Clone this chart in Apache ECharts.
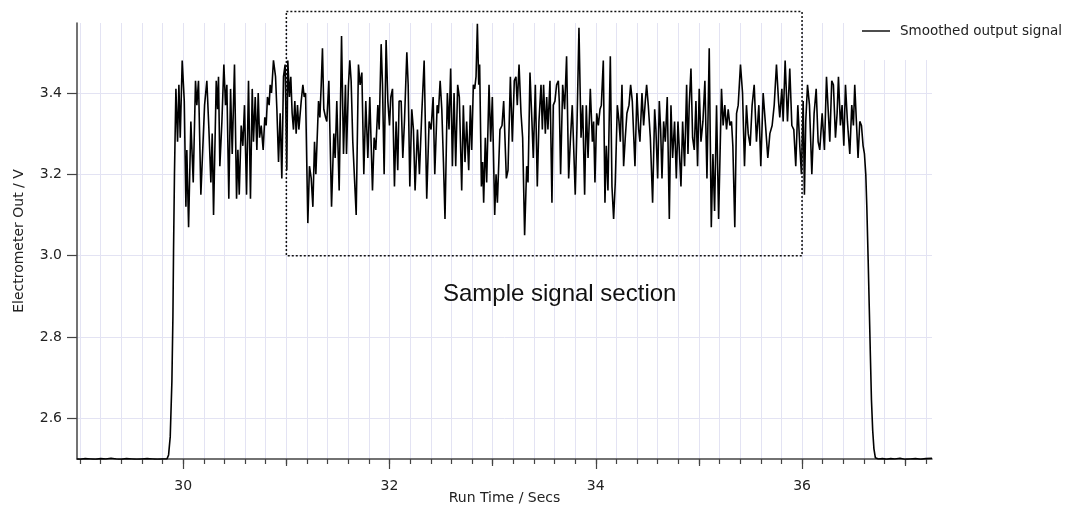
<!DOCTYPE html>
<html>
<head>
<meta charset="utf-8">
<script src="https://cdn.jsdelivr.net/npm/echarts@6/dist/echarts.min.js"></script>
<style>
html,body{margin:0;padding:0;background:#fff;}
#chart{width:1073px;height:506px;}
</style>
</head>
<body>
<div id="chart"></div>
<script>
// ---- data ----
const seriesName = 'Smoothed output signal';
const xTitle = 'Run Time / Secs';
const yTitle = 'Electrometer Out / V';
const annotationText = 'Sample signal section';

const xLabelTicks = [30, 32, 34, 36];
const xMidTicks = [31, 33, 35, 37];
const xMinorTicks = [29.0,29.2,29.4,29.6,29.8,30.0,30.2,30.4,30.6,30.8,31.0,31.2,31.4,31.6,31.8,32.0,32.2,32.4,32.6,32.8,33.0,33.2,33.4,33.6,33.8,34.0,34.2,34.4,34.6,34.8,35.0,35.2,35.4,35.6,35.8,36.0,36.2,36.4,36.6,36.8,37.0,37.2];
const yLabelTicks = [2.6, 2.8, 3.0, 3.2, 3.4];
const xRange = [28.97, 37.26];
const yRange = [2.5, 3.572];

// sample section box (x from, x to, y from, y to) and label anchor
const boxX = [31, 36];
const boxY = [3.0, 3.6];
const labelAt = [33.65, 2.905];

// baseline before injection
const baseStartTime = [28.97,29.0,29.05,29.1,29.15,29.2,29.25,29.3,29.35,29.4,29.45,29.5,29.55,29.6,29.65,29.7,29.75,29.8];
const baseStartVolt = [2.500,2.499,2.501,2.500,2.499,2.501,2.500,2.502,2.500,2.499,2.501,2.500,2.499,2.500,2.501,2.500,2.499,2.500];
// rise
const riseTime = [29.842,29.858,29.874,29.89,29.9,29.906,29.915];
const riseVolt = [2.500,2.51,2.555,2.69,2.85,3.01,3.2];
// plateau signal
const plateauTime = [
29.929,29.945,29.958,29.971,29.990,30.010,30.026,30.035,30.052,30.074,30.097,30.119,30.132,30.148,30.171,30.207,30.229,30.249,30.268,30.281,30.294,30.320,30.333,30.342,30.355,30.375,30.394,30.410,30.423,30.442,30.459,30.475,30.497,30.517,30.530,30.543,30.562,30.578,30.594,30.614,30.633,30.652,30.669,30.681,30.698,30.714,30.727,30.740,30.756,30.775,30.791,30.804,30.817,30.833,30.843,30.856,30.875,30.895,30.908,30.924,30.940,30.956,30.972,30.988,31.004,31.014,31.030,31.043,31.056,31.069,31.082,31.095,31.108,31.121,
31.144,31.160,31.173,31.186,31.208,31.224,31.241,31.257,31.273,31.286,31.312,31.325,31.338,31.350,31.363,31.380,31.392,31.412,31.438,31.460,31.473,31.489,31.512,31.535,31.554,31.573,31.583,31.602,31.615,31.628,31.644,31.677,31.699,31.715,31.732,31.751,31.770,31.790,31.809,31.835,31.851,31.867,31.887,31.900,31.919,31.932,31.948,31.967,31.984,32.000,32.013,32.029,32.048,32.064,32.080,32.093,32.113,32.129,32.145,32.168,32.181,32.197,32.216,32.232,32.248,32.271,32.290,32.313,32.336,32.361,32.384,32.403,32.423,32.439,32.462,32.474,32.491,32.507,32.523,
32.538,32.561,32.577,32.593,32.610,32.626,32.642,32.661,32.677,32.700,32.716,32.732,32.748,32.768,32.784,32.797,32.813,32.826,32.839,32.852,32.865,32.874,32.891,32.903,32.913,32.929,32.942,32.965,32.981,32.997,33.020,33.033,33.046,33.071,33.091,33.107,33.133,33.149,33.172,33.191,33.210,33.226,33.239,33.256,33.275,33.291,33.310,33.330,33.343,33.362,33.381,33.394,33.414,33.433,33.449,33.469,33.482,33.494,33.511,33.524,33.536,33.556,33.575,33.588,33.604,33.620,33.637,33.646,33.659,33.679,33.698,33.717,33.737,33.753,33.772,33.801,33.817,33.837,
33.857,33.873,33.892,33.908,33.925,33.947,33.967,33.979,33.992,34.009,34.025,34.041,34.054,34.073,34.089,34.102,34.118,34.141,34.157,34.173,34.189,34.209,34.225,34.238,34.254,34.270,34.286,34.302,34.322,34.338,34.354,34.380,34.399,34.416,34.428,34.448,34.464,34.480,34.493,34.509,34.529,34.551,34.571,34.583,34.600,34.616,34.629,34.642,34.658,34.674,34.693,34.713,34.729,34.745,34.764,34.781,34.797,34.810,34.826,34.842,34.861,34.881,34.894,34.906,34.923,34.939,34.955,34.971,34.987,35.003,35.020,35.039,35.058,35.078,35.100,35.120,35.136,35.152,35.171,35.191,
35.219,35.235,35.251,35.268,35.284,35.300,35.316,35.329,35.348,35.365,35.381,35.403,35.423,35.442,35.461,35.478,35.497,35.516,35.536,35.558,35.581,35.600,35.623,35.646,35.668,35.688,35.710,35.730,35.752,35.772,35.784,35.804,35.817,35.836,35.859,35.881,35.901,35.920,35.939,35.959,35.978,35.994,36.011,36.023,36.036,36.053,36.072,36.095,36.117,36.137,36.156,36.172,36.195,36.217,36.237,36.253,36.269,36.288,36.304,36.324,36.340,36.353,36.372,36.388,36.405,36.421,36.440,36.463,36.482,36.498,36.511,36.527,36.543,36.560,36.576,36.592,36.605,36.618
];
const plateauVolt = [
3.41,3.28,3.42,3.29,3.48,3.38,3.12,3.26,3.07,3.33,3.18,3.43,3.37,3.43,3.15,3.37,3.43,3.31,3.18,3.30,3.10,3.43,3.36,3.44,3.22,3.33,3.47,3.37,3.42,3.14,3.41,3.25,3.47,3.14,3.26,3.15,3.32,3.27,3.37,3.15,3.43,3.14,3.41,3.28,3.39,3.26,3.40,3.29,3.32,3.26,3.34,3.32,3.39,3.37,3.42,3.40,3.48,3.44,3.36,3.23,3.35,3.19,3.44,3.47,3.21,3.48,3.39,3.44,3.35,3.31,3.38,3.30,3.37,3.31,
3.38,3.42,3.39,3.40,3.08,3.22,3.19,3.12,3.28,3.20,3.38,3.34,3.42,3.51,3.36,3.34,3.33,3.43,3.12,3.30,3.24,3.38,3.16,3.54,3.25,3.42,3.25,3.42,3.48,3.43,3.28,3.10,3.47,3.42,3.45,3.20,3.38,3.24,3.39,3.16,3.29,3.26,3.37,3.31,3.52,3.42,3.20,3.53,3.38,3.32,3.39,3.41,3.17,3.33,3.21,3.38,3.38,3.24,3.33,3.50,3.42,3.17,3.36,3.31,3.16,3.31,3.20,3.35,3.48,3.14,3.33,3.31,3.39,3.20,3.37,3.35,3.43,3.36,3.23,
3.09,3.40,3.31,3.46,3.22,3.40,3.22,3.42,3.39,3.16,3.37,3.23,3.33,3.21,3.37,3.26,3.42,3.41,3.44,3.57,3.42,3.47,3.17,3.23,3.13,3.29,3.18,3.42,3.28,3.39,3.10,3.20,3.13,3.31,3.32,3.38,3.19,3.21,3.44,3.28,3.43,3.44,3.37,3.47,3.35,3.29,3.05,3.22,3.18,3.45,3.33,3.24,3.42,3.17,3.33,3.42,3.31,3.42,3.30,3.39,3.31,3.43,3.13,3.37,3.38,3.42,3.43,3.38,3.20,3.42,3.36,3.49,3.19,3.28,3.37,3.15,3.31,3.56,
3.29,3.37,3.15,3.37,3.24,3.41,3.28,3.33,3.18,3.35,3.32,3.36,3.37,3.48,3.13,3.27,3.16,3.49,3.17,3.09,3.18,3.37,3.33,3.28,3.42,3.22,3.29,3.35,3.37,3.42,3.38,3.22,3.40,3.31,3.28,3.40,3.32,3.38,3.42,3.37,3.29,3.13,3.36,3.31,3.19,3.38,3.31,3.19,3.33,3.28,3.39,3.09,3.37,3.24,3.33,3.19,3.33,3.26,3.17,3.33,3.22,3.42,3.25,3.37,3.46,3.29,3.26,3.38,3.22,3.41,3.28,3.33,3.43,3.19,3.51,3.07,3.25,3.11,3.37,3.09,
3.41,3.32,3.37,3.31,3.36,3.32,3.33,3.27,3.07,3.35,3.37,3.47,3.40,3.22,3.37,3.30,3.27,3.37,3.42,3.28,3.37,3.22,3.40,3.32,3.24,3.30,3.32,3.37,3.47,3.38,3.34,3.41,3.33,3.48,3.33,3.46,3.32,3.31,3.22,3.37,3.27,3.20,3.38,3.15,3.33,3.42,3.37,3.20,3.35,3.41,3.28,3.26,3.35,3.26,3.44,3.36,3.28,3.43,3.42,3.29,3.35,3.44,3.32,3.37,3.27,3.42,3.33,3.25,3.37,3.32,3.42,3.33,3.24,3.33,3.32,3.27,3.25,3.20
];
// fall
const fallTime = [36.628,36.641,36.652,36.662,36.673,36.685,36.697,36.711];
const fallVolt = [3.12,2.99,2.87,2.76,2.645,2.57,2.525,2.503];
// baseline after
const baseEndTime = [36.74,36.78,36.82,36.86,36.9,36.95,37.0,37.05,37.1,37.15,37.2,37.26];
const baseEndVolt = [2.500,2.501,2.499,2.501,2.500,2.502,2.499,2.500,2.501,2.499,2.501,2.502];

// ---- build ----
const runTime = [].concat(baseStartTime, riseTime, plateauTime, fallTime, baseEndTime);
const output = [].concat(baseStartVolt, riseVolt, plateauVolt, fallVolt, baseEndVolt);
const lineData = runTime.map((t, i) => [t, output[i]]);

const FONT = 'DejaVu Sans';
const axisColor = '#444';
const gridColor = '#e3e3f3';
const textColor = '#222';

function tickAxis(values, len) {
  return {
    type: 'value', gridIndex: 0, position: 'bottom', min: xRange[0], max: xRange[1],
    axisLine: {show: false},
    axisTick: {show: true, customValues: values, length: len, lineStyle: {color: axisColor, width: 1.2}},
    axisLabel: {show: false},
    splitLine: {show: false}
  };
}

const chart = echarts.init(document.getElementById('chart'), null, {renderer: 'canvas'});
chart.setOption({
  animation: false,
  backgroundColor: '#fff',
  grid: {left: 77, right: 141, top: 23, bottom: 47, containLabel: false, outerBoundsMode: 'none'},
  legend: {
    data: [{name: seriesName, icon: 'path://M0,0H28V1.4H0Z'}],
    left: 850, top: 11,
    backgroundColor: '#fff',
    padding: [13, 20, 22, 12],
    itemWidth: 28, itemHeight: 14,
    itemStyle: {color: '#000'},
    textStyle: {fontFamily: FONT, fontSize: 13.5, color: textColor, padding: [0, 0, 0, 5]}
  },
  xAxis: [
    {
      type: 'value', gridIndex: 0, position: 'bottom', min: xRange[0], max: xRange[1],
      name: xTitle, nameLocation: 'middle', nameGap: 32, nameMoveOverlap: false,
      nameTextStyle: {fontFamily: FONT, fontSize: 14, color: textColor},
      axisLine: {show: true, onZero: false, lineStyle: {color: axisColor, width: 1.5}},
      axisTick: {show: true, customValues: xMinorTicks, length: 5, lineStyle: {color: axisColor, width: 1.2}},
      axisLabel: {show: true, customValues: xLabelTicks, margin: 20, fontFamily: FONT, fontSize: 14, color: textColor,
        formatter: v => String(Math.round(v))},
      splitLine: {show: true, lineStyle: {color: gridColor, width: 1}}
    },
    tickAxis(xMidTicks, 7),
    tickAxis(xLabelTicks, 10)
  ],
  yAxis: {
    type: 'value', min: yRange[0], max: yRange[1],
    name: yTitle, nameLocation: 'middle', nameGap: 51, nameMoveOverlap: false,
    nameTextStyle: {fontFamily: FONT, fontSize: 14, color: textColor},
    axisLine: {show: true, onZero: false, lineStyle: {color: axisColor, width: 1.5}},
    axisTick: {show: true, customValues: yLabelTicks, length: 10, lineStyle: {color: axisColor, width: 1.2}},
    axisLabel: {show: true, customValues: yLabelTicks, margin: 15, fontFamily: FONT, fontSize: 14, color: textColor,
      formatter: v => v.toFixed(1)},
    splitLine: {show: true, lineStyle: {color: gridColor, width: 1}}
  },
  series: [
    {
      name: seriesName, type: 'line', xAxisIndex: 0, data: lineData,
      symbol: 'none', showSymbol: false, sampling: 'none',
      lineStyle: {color: '#000', width: 1.6}, itemStyle: {color: '#000'},
      z: 3
    },
    {
      type: 'custom', xAxisIndex: 0, clip: false, silent: true, z: 4,
      data: [[boxX[0], boxY[0], boxX[1], boxY[1]]],
      renderItem: function (params, api) {
        const p1 = api.coord([api.value(0), api.value(3)]);
        const p2 = api.coord([api.value(2), api.value(1)]);
        return {
          type: 'rect',
          shape: {x: p1[0], y: p1[1], width: p2[0] - p1[0], height: p2[1] - p1[1]},
          style: {fill: 'none', stroke: '#111', lineWidth: 1.5, lineDash: [2, 2]}
        };
      }
    },
    {
      type: 'custom', xAxisIndex: 0, clip: false, silent: true, z: 4,
      data: [[labelAt[0], labelAt[1]]],
      renderItem: function (params, api) {
        const p = api.coord([api.value(0), api.value(1)]);
        return {
          type: 'text', x: p[0], y: p[1],
          style: {text: annotationText, fontFamily: 'Liberation Sans', fontSize: 24, fill: '#111',
            align: 'center', verticalAlign: 'middle'}
        };
      }
    }
  ]
});
</script>
</body>
</html>
